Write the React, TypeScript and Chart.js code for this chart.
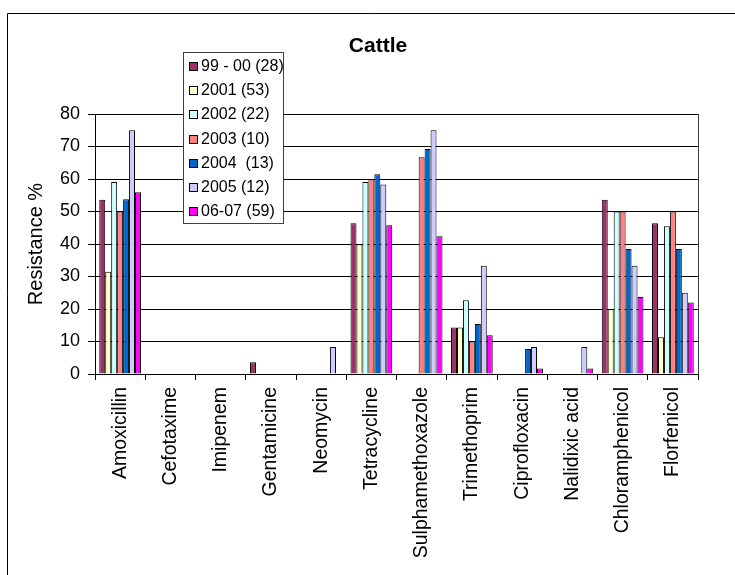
import React, { useEffect, useRef } from "react";
import { Chart, registerables } from "chart.js";

Chart.register(...registerables);

const categories = [
  "Amoxicillin",
  "Cefotaxime",
  "Imipenem",
  "Gentamicine",
  "Neomycin",
  "Tetracycline",
  "Sulphamethoxazole",
  "Trimethoprim",
  "Ciprofloxacin",
  "Nalidixic acid",
  "Chloramphenicol",
  "Florfenicol",
];

const seriesLabels = ["99 - 00 (28)", "2001 (53)", "2002 (22)", "2003 (10)", "2004  (13)", "2005 (12)", "06-07 (59)"];
const seriesColors = ["#993366", "#FFFFCC", "#CCFFFF", "#FF8080", "#0066CC", "#CCCCFF", "#FF00FF"];

const s9900 = [53.6, 0, 0, 3.6, 0, 46.4, 0, 14.3, 0, 0, 53.6, 46.4];
const s2001 = [31.5, 0, 0, 0, 0, 39.9, 0, 14.3, 0, 0, 20.0, 11.3];
const s2002 = [59.1, 0, 0, 0, 0, 59.1, 0, 22.7, 0, 0, 50.0, 45.5];
const s2003 = [50.0, 0, 0, 0, 0, 60.0, 66.7, 10.0, 0, 0, 50.0, 50.0];
const s2004 = [53.8, 0, 0, 0, 0, 61.5, 69.2, 15.4, 7.7, 0, 38.5, 38.5];
const s2005 = [75.0, 0, 0, 0, 8.3, 58.3, 75.0, 33.3, 8.3, 8.3, 33.3, 25.0];
const s0607 = [55.9, 0, 0, 0, 0, 45.8, 42.4, 11.9, 1.7, 1.7, 23.7, 22.0];

const yTicks = [0, 10, 20, 30, 40, 50, 60, 70, 80];

const chartTitle = "Cattle";
const yTitle = "Resistance %";

const FONT = "'Liberation Sans', Arial, sans-serif";

const decorPlugin = {
  id: "decor",
  beforeDraw(chart: any) {
    const ctx = chart.ctx;
    ctx.save();
    ctx.fillStyle = "#ffffff";
    ctx.fillRect(0, 0, chart.width, chart.height);
    ctx.strokeStyle = "#000000";
    ctx.lineWidth = 1;
    ctx.beginPath();
    ctx.moveTo(7.5, chart.height);
    ctx.lineTo(7.5, 13.5);
    ctx.lineTo(chart.width, 13.5);
    ctx.stroke();
    ctx.restore();
  },
  afterDraw(chart: any) {
    const ctx = chart.ctx;
    const area = chart.chartArea;
    ctx.save();
    // plot area right border
    ctx.strokeStyle = "#404040";
    ctx.lineWidth = 1;
    ctx.beginPath();
    ctx.moveTo(Math.round(area.right) + 0.5, area.top);
    ctx.lineTo(Math.round(area.right) + 0.5, area.bottom);
    ctx.stroke();

    // title
    ctx.fillStyle = "#000000";
    ctx.font = `bold 21px ${FONT}`;
    ctx.textAlign = "center";
    ctx.textBaseline = "middle";
    ctx.fillText(chartTitle, 378, 46);

    // y title
    ctx.save();
    ctx.translate(36, (area.top + area.bottom) / 2);
    ctx.rotate(-Math.PI / 2);
    ctx.font = `20px ${FONT}`;
    ctx.textAlign = "center";
    ctx.textBaseline = "middle";
    ctx.fillText(yTitle, 0, 0);
    ctx.restore();

    // legend
    const lx = 183.5, ly = 52.5, lw = 100, lh = 171;
    ctx.fillStyle = "#ffffff";
    ctx.fillRect(lx, ly, lw, lh);
    ctx.strokeStyle = "#404040";
    ctx.strokeRect(lx, ly, lw, lh);
    ctx.font = `16px ${FONT}`;
    ctx.textAlign = "left";
    ctx.textBaseline = "middle";
    chart.data.datasets.forEach((ds: any, i: number) => {
      const cy = Math.round(65.7 + i * 24.27);
      ctx.fillStyle = ds.backgroundColor;
      ctx.fillRect(189.5, cy - 3.5, 8, 8);
      ctx.strokeStyle = "#000000";
      ctx.strokeRect(189.5, cy - 3.5, 8, 8);
      ctx.fillStyle = "#000000";
      ctx.fillText(ds.label, 201, cy + 1);
    });
    ctx.restore();
  },
};

export default function App() {
  const ref = useRef<HTMLCanvasElement | null>(null);

  useEffect(() => {
    if (!ref.current) return;
    const all = [s9900, s2001, s2002, s2003, s2004, s2005, s0607];
    const chart = new Chart(ref.current, {
      type: "bar",
      data: {
        labels: categories,
        datasets: all.map((d, i) => ({
          label: seriesLabels[i],
          data: d,
          backgroundColor: seriesColors[i],
          borderColor: "#000000",
          borderWidth: 1,
          borderSkipped: "bottom",
          categoryPercentage: 0.83,
          barPercentage: 1.0,
        })),
      },
      options: {
        responsive: false,
        animation: false,
        devicePixelRatio: 1,
        layout: { padding: { left: 0, top: 114, right: 37, bottom: 0 } },
        plugins: {
          legend: { display: false },
          title: { display: false },
          tooltip: { enabled: false },
        },
        scales: {
          x: {
            type: "category",
            offset: true,
            grid: {
              display: true,
              drawOnChartArea: false,
              drawTicks: true,
              tickLength: 6,
              color: "#000000",
              offset: true,
            },
            border: { color: "#000000", width: 1 },
            ticks: {
              color: "#000000",
              font: { family: FONT, size: 19.5 },
              maxRotation: 90,
              minRotation: 90,
              padding: 7,
              autoSkip: false,
            },
            afterFit: (s: any) => {
              s.height = 201;
            },
          },
          y: {
            min: 0,
            max: 80,
            afterBuildTicks: (s: any) => {
              s.ticks = yTicks.map((v) => ({ value: v }));
            },
            ticks: {
              color: "#000000",
              font: { family: FONT, size: 18 },
              padding: 8,
            },
            grid: { color: "#000000", tickLength: 7, lineWidth: 1 },
            border: { color: "#000000", width: 1 },
            afterFit: (s: any) => {
              s.width = 95;
            },
          },
        },
      },
      plugins: [decorPlugin],
    } as any);
    return () => chart.destroy();
  }, []);

  return (
    <div style={{ position: "absolute", left: 0, top: 0, width: 735, height: 575, overflow: "hidden", background: "#fff" }}>
      <canvas ref={ref} width={735} height={575} style={{ display: "block", width: 735, height: 575 }} />
    </div>
  );
}
